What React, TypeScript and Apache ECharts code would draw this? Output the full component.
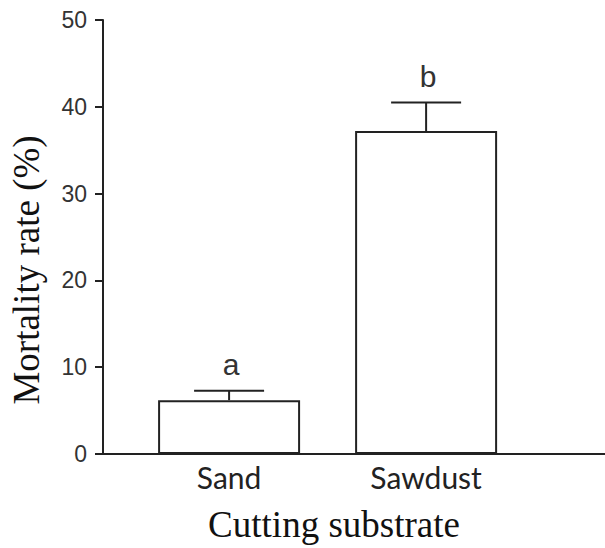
import React, { useEffect, useRef } from "react";
import * as echarts from "echarts";

const categories = ["Sand", "Sawdust"];
const positions = [1, 2];
const means = [6.2, 37.2];
const errors = [1.1, 3.3];
const letters = ["a", "b"];
const yAxisTitle = "Mortality rate (%)";
const xAxisTitle = "Cutting substrate";

export default function App() {
  const ref = useRef<HTMLDivElement>(null);
  useEffect(() => {
    if (!ref.current) return;
    const chart = echarts.init(ref.current, undefined, { renderer: "svg" });
    const barData = positions.map((p, i) => [p, means[i]]);
    const errData = positions.map((p, i) => [p, means[i], means[i] + errors[i], i]);
    const lineColor = "#222";
    chart.setOption({
      animation: false,
      grid: { left: 103, right: 0, top: 20, bottom: 94, containLabel: false },
      xAxis: {
        type: "value",
        min: 0.36,
        max: 2.908,
        splitLine: { show: false },
        axisLine: { show: true, lineStyle: { color: lineColor, width: 2 } },
        axisTick: { show: false },
        axisLabel: {
          customValues: positions,
          formatter: (v: number) => categories[Math.round(v) - 1] ?? "",
          fontFamily: "Lato",
          fontSize: 30,
          color: "#222",
          margin: 8,
        },
      },
      yAxis: {
        type: "value",
        min: 0,
        max: 50,
        interval: 10,
        splitLine: { show: false },
        axisLine: { show: true, lineStyle: { color: lineColor, width: 2 } },
        axisTick: { show: true, length: 8, lineStyle: { color: lineColor, width: 2 } },
        axisLabel: {
          fontFamily: "Liberation Sans",
          fontSize: 23,
          color: "#333",
          margin: 16,
        },
      },
      series: [
        {
          type: "bar",
          data: barData,
          barWidth: 142,
          itemStyle: { color: "#fff", borderColor: lineColor, borderWidth: 2 },
          z: 2,
        },
        {
          type: "custom",
          data: errData,
          z: 3,
          renderItem: (params: any, api: any) => {
            const x = api.value(0);
            const base = api.coord([x, api.value(1)]);
            const top = api.coord([x, api.value(2)]);
            const idx = api.value(3);
            const half = 35;
            return {
              type: "group",
              children: [
                {
                  type: "line",
                  shape: { x1: base[0], y1: base[1], x2: top[0], y2: top[1] },
                  style: { stroke: lineColor, lineWidth: 2 },
                },
                {
                  type: "line",
                  shape: { x1: top[0] - half, y1: top[1], x2: top[0] + half, y2: top[1] },
                  style: { stroke: lineColor, lineWidth: 2 },
                },
                {
                  type: "text",
                  x: top[0] + 2,
                  y: top[1] - 11,
                  style: {
                    text: letters[idx],
                    fontFamily: "Liberation Sans",
                    fontSize: 30,
                    fill: "#333",
                    align: "center",
                    verticalAlign: "bottom",
                  },
                },
              ],
            };
          },
        },
      ],
      graphic: [
        {
          type: "text",
          x: 26,
          y: 270,
          rotation: Math.PI / 2,
          style: {
            text: yAxisTitle,
            fontFamily: "Liberation Serif",
            fontSize: 37,
            fill: "#111",
            align: "center",
            verticalAlign: "middle",
          },
        },
        {
          type: "text",
          x: 334,
          y: 524,
          style: {
            text: xAxisTitle,
            fontFamily: "Liberation Serif",
            fontSize: 37,
            fill: "#111",
            align: "center",
            verticalAlign: "middle",
          },
        },
      ],
    });
    return () => chart.dispose();
  }, []);
  return <div ref={ref} style={{ width: 605, height: 548, position: "absolute", left: 0, top: 0 }} />;
}
